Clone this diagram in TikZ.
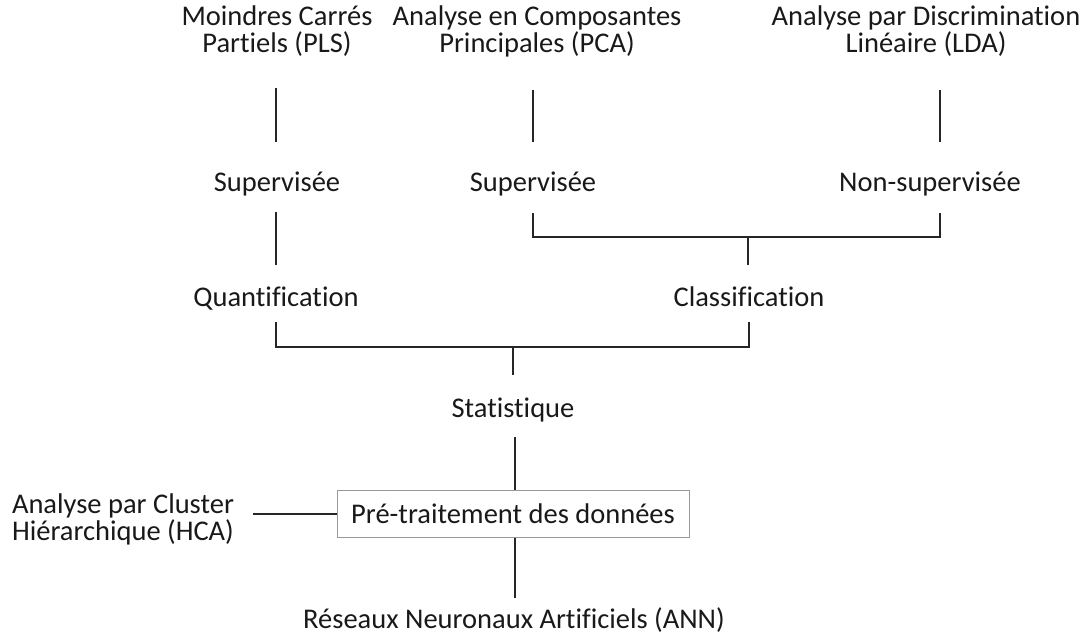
\documentclass[tikz,border=0pt]{standalone}
\usepackage{fontspec}
\setmainfont{Carlito}[Ligatures=NoCommon]
\begin{document}
\begin{tikzpicture}[x=1pt,y=-1pt,
  lbl/.style={align=center,inner sep=0pt,anchor=base,text=black!90,font=\fontsize{28.5}{27}\selectfont},
  conn/.style={line width=1.6pt,black!85},
  pbox/.style={draw=black!40,line width=1pt,minimum width=352pt,minimum height=47pt,inner sep=0pt,text=black!90,font=\fontsize{28.5}{27}\selectfont}]
\useasboundingbox (0,0) rectangle (1088,636);
% text nodes (multi-line nodes are placed at the baseline of their last line)
\node[lbl] (pls) at (277,53) {Moindres Carrés\\Partiels (PLS)};
\node[lbl] (pca) at (537,53) {Analyse en Composantes\\Principales (PCA)};
\node[lbl] (lda) at (926,53) {Analyse par Discrimination\\Linéaire (LDA)};
\node[lbl] (sup1) at (277,192) {Supervisée};
\node[lbl] (sup2) at (533,192) {Supervisée};
\node[lbl] (nsup) at (930,192) {Non-supervisée};
\node[lbl] (quant) at (276,307) {Quantification};
\node[lbl] (classif) at (749,307) {Classification};
\node[lbl] (stat) at (513,418) {Statistique};
\node[pbox] (pre) at (513,513.5) {Pré-traitement des données};
\node[lbl] (hca) at (123,540) {Analyse par Cluster\\Hiérarchique (HCA)};
\node[lbl] (ann) at (514,628) {Réseaux Neuronaux Artificiels (ANN)};
% connector end points
\coordinate (a1) at (276,88);  \coordinate (a2) at (276,142);
\coordinate (b1) at (533,90);  \coordinate (b2) at (533,142);
\coordinate (c1) at (940,90);  \coordinate (c2) at (940,142);
\coordinate (d1) at (276,212); \coordinate (d2) at (276,265);
\coordinate (e1) at (533,213); \coordinate (e2) at (940,213); \coordinate (ey) at (0,237);
\coordinate (f1) at (748,237); \coordinate (f2) at (748,265);
\coordinate (g1) at (276,322); \coordinate (g2) at (749,322); \coordinate (gy) at (0,347);
\coordinate (h1) at (513,347); \coordinate (h2) at (513,375);
\coordinate (i1) at (515,437);
\coordinate (j2) at (515,598);
\coordinate (k1) at (253,514);
% connectors
\draw[conn] (a1) -- (a2);
\draw[conn] (b1) -- (b2);
\draw[conn] (c1) -- (c2);
\draw[conn] (d1) -- (d2);
\draw[conn] (e1) -- (e1 |- ey) -- (e2 |- ey) -- (e2);
\draw[conn] (f1) -- (f2);
\draw[conn] (g1) -- (g1 |- gy) -- (g2 |- gy) -- (g2);
\draw[conn] (h1) -- (h2);
\draw[conn] (i1) -- (i1 |- pre.north);
\draw[conn] (j2 |- pre.south) -- (j2);
\draw[conn] (k1) -- (k1 -| pre.west);
\end{tikzpicture}
\end{document}
